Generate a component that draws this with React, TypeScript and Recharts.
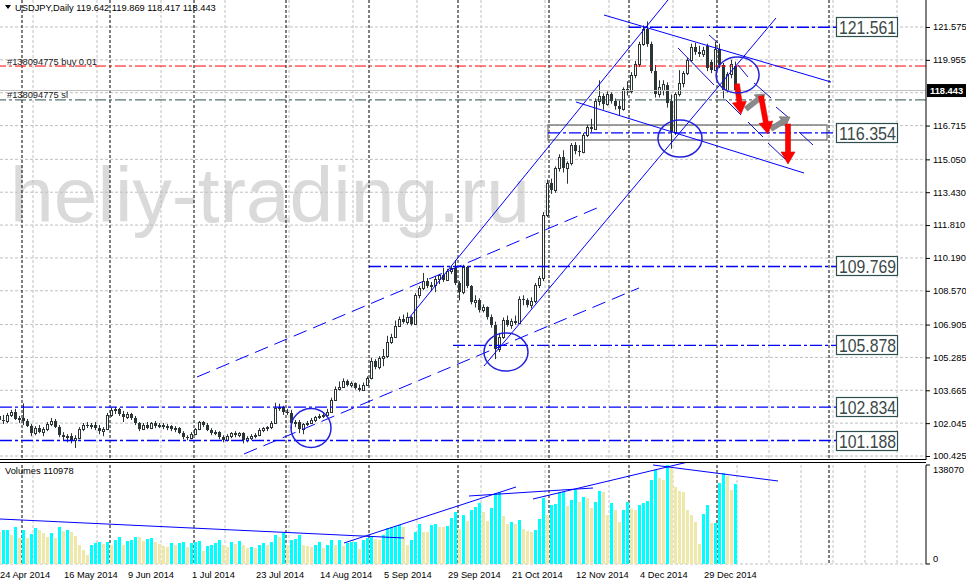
import React from 'react';
import {
  ComposedChart, Bar, XAxis, YAxis, CartesianGrid, ReferenceLine, ReferenceDot, ReferenceArea,
} from 'recharts';

// ---------------- data ----------------
const SYMBOL = 'USDJPY,Daily';
const dateLabels = ['24 Apr 2014', '16 May 2014', '9 Jun 2014', '1 Jul 2014', '23 Jul 2014', '14 Aug 2014', '5 Sep 2014', '29 Sep 2014', '21 Oct 2014', '12 Nov 2014', '4 Dec 2014', '29 Dec 2014'];
const dateLabelBars = [0, 16, 32, 48, 64, 80, 96, 112, 128, 144, 160, 176];

const opens = [
  102.40, 102.20, 102.15, 102.45, 102.60, 102.25, 102.30, 102.15, 101.90, 101.55,
  101.80, 101.60, 101.75, 102.00, 102.15, 101.85, 101.45, 101.35, 101.40, 101.20,
  101.30, 101.75, 101.95, 101.90, 101.95, 101.80, 101.65, 101.75, 102.45, 102.70,
  102.75, 102.50, 102.35, 102.50, 102.30, 102.05, 101.75, 101.95, 101.80, 102.05,
  101.90, 101.95, 101.85, 101.90, 101.75, 101.80, 101.55, 101.35, 101.30, 101.50,
  101.75, 102.10, 101.95, 101.70, 101.55, 101.60, 101.35, 101.20, 101.40, 101.55,
  101.45, 101.55, 101.20, 101.30, 101.40, 101.45, 101.70, 101.80, 101.85, 102.05,
  102.80, 102.85, 102.60, 102.55, 102.05, 102.10, 101.75, 102.00, 102.05, 102.20,
  102.35, 102.40, 102.45, 102.60, 103.20, 103.75, 103.85, 104.10, 103.95, 104.00,
  103.80, 103.70, 103.95, 104.25, 105.10, 104.80, 105.25, 105.35, 106.05, 106.30,
  106.85, 107.20, 107.05, 107.30, 106.95, 108.35, 108.70, 109.05, 108.80, 108.85,
  109.15, 109.35, 109.10, 109.55, 109.70, 108.95, 108.50, 109.75, 108.80, 108.00,
  108.10, 107.60, 107.75, 107.30, 106.90, 105.70, 106.30, 107.15, 106.90, 107.10,
  107.00, 108.15, 108.10, 107.85, 108.05, 108.85, 109.20, 112.30, 113.90, 113.55,
  114.60, 115.15, 114.60, 114.85, 115.75, 115.45, 115.40, 116.25, 116.65, 116.55,
  117.95, 118.15, 117.80, 118.25, 117.95, 117.70, 117.55, 118.50, 118.40, 119.20,
  119.75, 120.75, 121.50, 120.75, 119.40, 118.25, 118.45, 118.70, 117.95, 116.40,
  118.25, 118.80, 119.30, 119.95, 120.60, 120.35, 120.25, 120.65, 119.85, 119.45,
  120.50, 119.70, 118.45, 119.25, 119.642,
];
const highs = [
  102.62, 102.45, 102.55, 102.70, 102.75, 102.40, 103.02, 102.25, 102.00, 101.90,
  101.95, 101.85, 102.10, 102.30, 102.25, 101.95, 101.60, 101.50, 101.55, 101.45,
  101.85, 102.05, 102.10, 102.05, 102.10, 101.95, 101.85, 102.55, 102.80, 102.85,
  102.80, 102.65, 102.60, 102.55, 102.40, 102.10, 102.05, 102.10, 102.10, 102.15,
  102.05, 102.05, 102.00, 101.95, 101.90, 101.85, 101.65, 101.45, 101.60, 101.80,
  102.15, 102.15, 102.05, 101.80, 101.70, 101.65, 101.45, 101.50, 101.60, 101.65,
  101.60, 101.60, 101.40, 101.50, 101.55, 101.80, 101.85, 101.90, 102.15, 103.05,
  103.00, 102.90, 102.75, 102.70, 102.20, 102.20, 102.05, 102.15, 102.30, 102.40,
  102.50, 102.55, 102.75, 103.30, 103.85, 104.10, 104.25, 104.20, 104.10, 104.05,
  103.95, 104.05, 104.35, 105.25, 105.20, 105.35, 105.70, 106.35, 106.45, 107.10,
  107.30, 107.40, 107.50, 107.35, 108.45, 108.80, 109.45, 109.20, 109.00, 109.30,
  109.40, 109.70, 109.65, 109.80, 110.09, 109.05, 109.85, 109.80, 108.85, 108.35,
  108.20, 107.90, 107.80, 107.40, 107.05, 106.50, 107.25, 107.35, 107.20, 107.35,
  108.30, 108.35, 108.20, 108.25, 108.95, 109.30, 112.45, 114.05, 114.10, 114.70,
  115.30, 115.50, 114.95, 115.85, 115.90, 115.75, 116.35, 116.75, 117.05, 118.05,
  118.95, 118.30, 118.40, 118.35, 118.05, 117.95, 118.60, 118.90, 119.35, 119.90,
  120.85, 121.65, 121.85, 120.85, 119.70, 118.95, 118.95, 118.85, 118.25, 118.35,
  119.45, 119.40, 120.05, 120.75, 120.80, 120.65, 120.60, 120.75, 119.95, 120.85,
  120.75, 119.80, 119.35, 119.95, 119.869,
];
const lows = [
  102.05, 102.00, 102.05, 102.35, 102.20, 102.05, 101.95, 101.85, 101.40, 101.45,
  101.55, 101.40, 101.65, 101.90, 101.80, 101.35, 101.20, 101.10, 101.05, 100.82,
  101.25, 101.65, 101.80, 101.75, 101.70, 101.50, 101.40, 101.70, 102.35, 102.50,
  102.40, 102.10, 102.25, 102.20, 101.95, 101.65, 101.70, 101.75, 101.75, 101.80,
  101.80, 101.75, 101.70, 101.65, 101.60, 101.50, 101.25, 101.20, 101.25, 101.45,
  101.70, 101.85, 101.65, 101.45, 101.45, 101.25, 101.10, 101.15, 101.30, 101.35,
  101.35, 101.05, 101.10, 101.20, 101.30, 101.40, 101.60, 101.65, 101.75, 102.00,
  102.65, 102.45, 102.45, 101.75, 101.85, 101.55, 101.50, 101.90, 102.00, 102.10,
  102.25, 102.30, 102.40, 102.55, 103.15, 103.65, 103.80, 103.85, 103.80, 103.70,
  103.60, 103.65, 103.90, 104.20, 104.70, 104.70, 104.85, 105.25, 105.95, 106.25,
  106.80, 106.95, 106.90, 106.85, 106.90, 108.20, 108.60, 108.70, 108.55, 108.50,
  108.90, 109.00, 109.05, 109.40, 108.85, 108.10, 108.40, 108.70, 107.90, 107.75,
  107.50, 107.50, 107.15, 106.75, 105.20, 105.55, 106.20, 106.80, 106.70, 106.90,
  106.95, 107.85, 107.75, 107.70, 107.95, 108.70, 109.05, 112.20, 113.35, 113.40,
  114.45, 114.40, 113.85, 114.75, 115.30, 115.20, 115.35, 116.15, 116.40, 116.50,
  117.70, 117.50, 117.70, 117.80, 117.50, 117.23, 117.45, 118.20, 118.30, 119.05,
  119.60, 120.65, 120.60, 119.30, 118.10, 118.10, 118.20, 117.60, 115.57, 116.25,
  118.15, 118.60, 119.20, 119.85, 120.20, 120.10, 120.10, 119.40, 119.30, 119.40,
  119.55, 118.05, 118.35, 119.05, 118.417,
];
const closes = [
  102.20, 102.15, 102.45, 102.60, 102.25, 102.30, 102.15, 101.90, 101.55, 101.80,
  101.60, 101.75, 102.00, 102.15, 101.85, 101.45, 101.35, 101.40, 101.20, 101.30,
  101.75, 101.95, 101.90, 101.95, 101.80, 101.65, 101.75, 102.45, 102.70, 102.75,
  102.50, 102.35, 102.50, 102.30, 102.05, 101.75, 101.95, 101.80, 102.05, 101.90,
  101.95, 101.85, 101.90, 101.75, 101.80, 101.55, 101.35, 101.30, 101.50, 101.75,
  102.10, 101.95, 101.70, 101.55, 101.60, 101.35, 101.20, 101.40, 101.55, 101.45,
  101.55, 101.20, 101.30, 101.40, 101.45, 101.70, 101.80, 101.85, 102.05, 102.80,
  102.85, 102.60, 102.55, 102.05, 102.10, 101.75, 102.00, 102.05, 102.20, 102.35,
  102.40, 102.45, 102.60, 103.20, 103.75, 103.85, 104.10, 103.95, 104.00, 103.80,
  103.70, 103.95, 104.25, 105.10, 104.80, 105.25, 105.35, 106.05, 106.30, 106.85,
  107.20, 107.05, 107.30, 106.95, 108.35, 108.70, 109.05, 108.80, 108.85, 109.15,
  109.35, 109.10, 109.55, 109.70, 108.95, 108.50, 109.75, 108.80, 108.00, 108.10,
  107.60, 107.75, 107.30, 106.90, 105.70, 106.30, 107.15, 106.90, 107.10, 107.00,
  108.15, 108.10, 107.85, 108.05, 108.85, 109.20, 112.30, 113.90, 113.55, 114.60,
  115.15, 114.60, 114.85, 115.75, 115.45, 115.40, 116.25, 116.65, 116.55, 117.95,
  118.15, 117.80, 118.25, 117.95, 117.70, 117.55, 118.50, 118.40, 119.20, 119.75,
  120.75, 121.50, 120.75, 119.40, 118.25, 118.60, 118.75, 117.85, 116.40, 118.25,
  118.80, 119.30, 119.95, 120.60, 120.35, 120.25, 120.45, 119.55, 119.45, 120.50,
  119.70, 118.45, 119.25, 119.75, 118.443,
];
const volumes = [
  45000, 47000, 48000, 40000, 52000, 36000, 47000, 36000, 42000, 50000,
  48000, 43000, 37000, 43000, 36000, 52000, 46000, 47000, 44000, 39000,
  26000, 20000, 12000, 26000, 29000, 30000, 28000, 31000, 27000, 34000,
  38000, 26000, 32000, 33000, 38000, 37000, 32000, 35000, 36000, 30000,
  28000, 25000, 24000, 29000, 26000, 29000, 30000, 24000, 29000, 30000,
  32000, 18000, 25000, 27000, 29000, 33000, 26000, 24000, 30000, 28000,
  32000, 27000, 22000, 24000, 23000, 27000, 29000, 27000, 31000, 40000,
  37000, 43000, 27000, 34000, 35000, 41000, 26000, 25000, 24000, 26000,
  30000, 23000, 26000, 33000, 26000, 33000, 25000, 29000, 30000, 31000,
  21000, 33000, 36000, 37000, 35000, 33000, 40000, 50000, 52000, 53000,
  54000, 52000, 26000, 33000, 45000, 56000, 45000, 44000, 55000, 56000,
  52000, 51000, 53000, 64000, 73000, 49000, 69000, 60000, 75000, 80000,
  85000, 73000, 60000, 78000, 99000, 100000, 67000, 56000, 59000, 56000,
  61000, 49000, 46000, 45000, 47000, 63000, 92000, 68000, 82000, 83000,
  99000, 100000, 81000, 89000, 103000, 87000, 94000, 92000, 78000, 87000,
  102000, 101000, 68000, 85000, 75000, 59000, 75000, 87000, 77000, 76000,
  82000, 85000, 88000, 117000, 131000, 120000, 117000, 138070, 134000, 108000,
  102000, 101000, 75000, 68000, 59000, 28000, 70000, 82000, 57000, 57500,
  113000, 127000, 123000, 103000, 110978,
];

// axis ticks / grid
const priceGrid = [121.575, 119.955, 118.335, 116.715, 115.05, 113.43, 111.81, 110.19, 108.57, 106.905, 105.285, 103.665, 102.045, 100.425];
const priceHiddenLabel = 118.335;
const gridBars = [8.25, 24.25, 40.25, 56.25, 72.25, 88.25, 104.25, 120.25, 136.25, 152.25, 168.25, 184.25, 192.25, 200.25, 208.25, 216.25, 224.25];
const separatorBars = [5.5, 27.5, 48.5, 71.5, 92.25, 114.5, 137.25, 157.25, 179.25, 207.25];

// annotations (bar index, price)
const orderOpen = 119.65;
const orderSL = 117.98;
const orderTicket = '#138094775';
const levelPrices = [121.561, 116.354, 109.769, 105.878, 102.834, 101.188];
const levelFromBar = [157.25, 137, 92.25, 113.25, 0, 0];
const levelToBar = 209;
const zoneBox = [137, 116.004, 206.75, 116.744];
const trendSolid = [
  [102.25, 107.229, 167, 122.906],
  [121, 104.862, 194, 122.019],
  [151, 122.166, 207.75, 118.863],
  [144, 117.877, 201, 114.377],
];
const trendDashed = [
  [49.25, 104.32, 149.25, 112.652],
  [61, 100.524, 159.75, 108.708],
];
const fanLines = [
  [169.5, 120.54, 178.5, 118.716],
  [177.25, 121.181, 179.5, 120.786],
  [184.5, 119.701, 187, 119.11],
  [181.5, 117.976, 185.25, 117.237],
  [188.5, 118.814, 192.75, 118.075],
  [187, 116.891, 190.75, 116.152],
  [194, 117.631, 197.25, 117.089],
  [192, 115.856, 196.5, 115.018],
  [199.75, 116.398, 203.25, 115.757],
];
const ellipses = [
  [77.75, 101.806, 20, 19.5],
  [126.5, 105.552, 22, 19],
  [170, 116.078, 22, 18.5],
  [184.4, 119.209, 21.5, 18],
];
const redArrows = [
  [184.25, 118.765, 185.25, 117.286],
  [190.25, 118.173, 192, 116.3],
  [197, 116.793, 197, 114.821],
];
const grayArrows = [
  [186.5, 117.532, 191.25, 118.272],
  [192.75, 116.546, 197.5, 117.138],
];
const volumeLines = [
  [0, 62759, 101, 36261],
  [86, 29288, 129, 107388],
  [117.25, 94836, 148.25, 105993],
  [133.25, 90652, 172, 142254],
  [163.25, 138070, 194.5, 115756],
];

// ---------------- derived ----------------
const LAST = closes.length - 1;
const VMAX = Math.max(...volumes);
const candleData = opens.map((o, i) => ({ k: i, range: [lows[i], highs[i]], o, h: highs[i], l: lows[i], c: closes[i] }));
const volumeData = volumes.map((v, i) => ({ k: i, v, up: i > 0 && v > volumes[i - 1] }));

// ---------------- styles ----------------
const FONT = '"Liberation Sans", Arial, sans-serif';
const INK = '#2b3535';
const BLUE = '#0000FF';
const GRID = '#c0c0c0';
const PLOT_W = 926;
const XDOM: [number, number] = [0, 231.5];
const YDOM: [number, number] = [100.228, 122.906];
const SMALL = 9.3;

function Candle(props: any) {
  const { x, y, width, height, payload } = props;
  if (x == null || y == null || !payload) return null;
  const top = Math.min(y, y + height);
  const bottom = Math.max(y, y + height);
  const span = payload.h - payload.l;
  const toY = (p: number) => (span > 0 ? top + ((payload.h - p) / span) * (bottom - top) : top);
  const cx = Math.floor(x + width / 2) + 0.5;
  const yo = Math.round(toY(payload.o));
  const yc = Math.round(toY(payload.c));
  const bTop = Math.min(yo, yc);
  const bBot = Math.max(yo, yc);
  const bull = payload.c > payload.o;
  if (bull) {
    return (
      <g>
        <line x1={cx} x2={cx} y1={top} y2={bTop} stroke={INK} strokeWidth={1} />
        <line x1={cx} x2={cx} y1={bBot} y2={bottom} stroke={INK} strokeWidth={1} />
        <rect x={cx - 1} y={bTop + 0.5} width={2} height={Math.max(1, bBot - bTop)} fill="#fff" stroke={INK} strokeWidth={1} />
      </g>
    );
  }
  return (
    <g>
      <line x1={cx} x2={cx} y1={top} y2={bottom} stroke={INK} strokeWidth={1} />
      <rect x={cx - 1.5} y={bTop} width={3} height={Math.max(1, bBot - bTop)} fill={INK} />
    </g>
  );
}

function VolBar(props: any) {
  const { x, y, width, height, payload } = props;
  if (x == null || y == null || !payload) return null;
  const t = Math.round(Math.min(y, y + height));
  const b = Math.round(Math.max(y, y + height));
  return <rect x={Math.floor(x + width / 2) - 1} y={t} width={3} height={Math.max(0, b - t)} fill={payload.up ? '#00FFFF' : '#EEE8AA'} />;
}

function PriceTick(props: any) {
  const { y, payload } = props;
  const v = payload.value;
  if (v === closes[LAST]) {
    return (
      <g>
        <rect x={927} y={y - 6.5} width={39} height={13} fill="#000" />
        <text x={930} y={y + 3.5} fontSize={SMALL} fontFamily={FONT} fill="#fff" fontWeight="bold">{v.toFixed(3)}</text>
      </g>
    );
  }
  return (
    <g>
      <line x1={926} x2={930} y1={y + 0.5} y2={y + 0.5} stroke="#000" />
      <text x={933} y={y + 3.4} fontSize={SMALL} fontFamily={FONT} fill="#000">{v.toFixed(3)}</text>
    </g>
  );
}

function VolTick(props: any) {
  const { y, payload } = props;
  const v = payload.value;
  const ty = v === 0 ? y - 2.5 : y + 7.5;
  return (
    <g>
      <line x1={926} x2={930} y1={y} y2={y} stroke="#000" />
      <text x={933} y={ty} fontSize={SMALL} fontFamily={FONT} fill="#000">{String(v)}</text>
    </g>
  );
}

function DateTick(props: any) {
  const { x, y, payload } = props;
  const idx = dateLabelBars.indexOf(payload.value);
  return (
    <text x={x} y={y + 13.5} fontSize={SMALL} fontFamily={FONT} fill="#000">{dateLabels[idx]}</text>
  );
}

const arrowShape = (fill: string, shaft: number, head: number, headLen: number) => (p: any) => {
  const { x1, y1, x2, y2 } = p;
  if ([x1, y1, x2, y2].some((q) => q == null || Number.isNaN(q))) return null;
  const dx = x2 - x1;
  const dy = y2 - y1;
  const len = Math.hypot(dx, dy) || 1;
  const ux = dx / len;
  const uy = dy / len;
  const nx = -uy;
  const ny = ux;
  const bx = x2 - ux * headLen;
  const by = y2 - uy * headLen;
  const pts = [
    [x1 + (nx * shaft) / 2, y1 + (ny * shaft) / 2],
    [bx + (nx * shaft) / 2, by + (ny * shaft) / 2],
    [bx + (nx * head) / 2, by + (ny * head) / 2],
    [x2, y2],
    [bx - (nx * head) / 2, by - (ny * head) / 2],
    [bx - (nx * shaft) / 2, by - (ny * shaft) / 2],
    [x1 - (nx * shaft) / 2, y1 - (ny * shaft) / 2],
  ];
  return <polygon points={pts.map((q) => q.join(',')).join(' ')} fill={fill} stroke={fill === '#FF0000' ? '#e00000' : '#6e6e6e'} strokeWidth={0.6} />;
};

const levelBox = (text: string) => (p: any) => {
  const { cx, cy } = p;
  if (cx == null || cy == null) return null;
  return (
    <g>
      <rect x={cx + 0.5} y={Math.round(cy) - 9.5} width={61} height={19} fill="#fff" stroke="#2f4f4f" strokeWidth={1.2} />
      <text x={cx + 3} y={Math.round(cy) + 7} fontSize={18.5} fontFamily={FONT} fill="#3b4848" textLength={57} lengthAdjust="spacingAndGlyphs">{text}</text>
    </g>
  );
};

const ellipseShape = (rx: number, ry: number) => (p: any) => {
  const { cx, cy } = p;
  if (cx == null || cy == null) return null;
  return <ellipse cx={cx} cy={cy} rx={rx} ry={ry} fill="none" stroke="#2222dd" strokeWidth={1.5} />;
};

export default function App() {
  const last = { o: opens[LAST], h: highs[LAST], l: lows[LAST], c: closes[LAST] };
  const header = `${SYMBOL}  ${last.o.toFixed(3)} ${last.h.toFixed(3)} ${last.l.toFixed(3)} ${last.c.toFixed(3)}`;
  return (
    <div style={{ position: 'absolute', left: 0, top: 0, width: 966, height: 584, background: '#fff', overflow: 'hidden' }}>
      {/* watermark */}
      <svg width={966} height={584} style={{ position: 'absolute', left: 0, top: 0 }}>
        <text x={10} y={222} fontSize={78} fontFamily={FONT} fill="#dadada" textLength={520} lengthAdjust="spacingAndGlyphs">heliy-trading.ru</text>
      </svg>

      {/* main price pane */}
      <div style={{ position: 'absolute', left: 0, top: 0 }}>
        <ComposedChart width={966} height={460} data={candleData} margin={{ top: 0, right: 0, bottom: 0, left: 0 }}>
          <CartesianGrid stroke={GRID} strokeDasharray="3 2" verticalValues={gridBars} horizontalValues={priceGrid} />
          <CartesianGrid stroke="#000" strokeDasharray="3 2" horizontal={false} verticalValues={separatorBars} />
          <XAxis type="number" dataKey="k" domain={XDOM} hide allowDataOverflow />
          <YAxis
            orientation="right"
            type="number"
            domain={YDOM}
            allowDataOverflow
            width={40}
            ticks={[...priceGrid.filter((v) => v !== priceHiddenLabel), closes[LAST]]}
            interval={0}
            tickLine={false}
            tickSize={0}
            tickMargin={0}
            axisLine={{ stroke: '#000' }}
            tick={(p: any) => <PriceTick {...p} />}
          />
          {/* order lines */}
          <ReferenceLine y={closes[LAST]} stroke="#c0c0c0" strokeWidth={1} ifOverflow="hidden" />
          <ReferenceLine y={orderOpen} stroke="#FF0000" strokeWidth={1} strokeDasharray="11 3 3 3" ifOverflow="hidden" />
          <ReferenceLine y={orderSL} stroke="#2f4f4f" strokeWidth={1} strokeDasharray="11 3 3 3" ifOverflow="hidden" />
          {/* horizontal levels */}
          {levelPrices.map((lv, i) => (
            <ReferenceLine key={'lv' + i} segment={[{ x: levelFromBar[i], y: lv }, { x: levelToBar, y: lv }]} stroke={BLUE} strokeWidth={1.4} strokeDasharray="12 3 3 3" ifOverflow="hidden" />
          ))}
          <ReferenceArea x1={zoneBox[0]} y1={zoneBox[1]} x2={zoneBox[2]} y2={zoneBox[3]} fill="#fff" fillOpacity={0} stroke="#808080" strokeWidth={1.3} ifOverflow="hidden" />
          {trendDashed.map((t, i) => (
            <ReferenceLine key={'td' + i} segment={[{ x: t[0], y: t[1] }, { x: t[2], y: t[3] }]} stroke={BLUE} strokeWidth={1} strokeDasharray="14 7" ifOverflow="hidden" />
          ))}
          {trendSolid.map((t, i) => (
            <ReferenceLine key={'ts' + i} segment={[{ x: t[0], y: t[1] }, { x: t[2], y: t[3] }]} stroke={BLUE} strokeWidth={1} ifOverflow="hidden" />
          ))}
          {fanLines.map((t, i) => (
            <ReferenceLine key={'fl' + i} segment={[{ x: t[0], y: t[1] }, { x: t[2], y: t[3] }]} stroke="#1010c0" strokeWidth={1} ifOverflow="hidden" />
          ))}
          <Bar dataKey="range" barSize={3} isAnimationActive={false} shape={(p: any) => <Candle {...p} />} />
          {ellipses.map((e, i) => (
            <ReferenceDot key={'el' + i} x={e[0]} y={e[1]} r={10} ifOverflow="visible" shape={ellipseShape(e[2], e[3])} />
          ))}
          {grayArrows.map((a, i) => (
            <ReferenceLine key={'ga' + i} segment={[{ x: a[0], y: a[1] }, { x: a[2], y: a[3] }]} ifOverflow="visible" shape={arrowShape('#8a8a8a', 5, 12, 9)} />
          ))}
          {redArrows.map((a, i) => (
            <ReferenceLine key={'ra' + i} segment={[{ x: a[0], y: a[1] }, { x: a[2], y: a[3] }]} ifOverflow="visible" shape={arrowShape('#FF0000', 5, 14, 12)} />
          ))}
          {levelPrices.map((lv, i) => (
            <ReferenceDot key={'lb' + i} x={levelToBar} y={lv} r={1} ifOverflow="visible" shape={levelBox(lv.toFixed(3))} />
          ))}
        </ComposedChart>
      </div>

      {/* volume pane */}
      <div style={{ position: 'absolute', left: 0, top: 463 }}>
        <ComposedChart width={966} height={121} data={volumeData} margin={{ top: 2, right: 0, bottom: 0, left: 0 }}>
          <CartesianGrid stroke={GRID} strokeDasharray="3 2" verticalValues={gridBars} horizontalValues={[0]} />
          <CartesianGrid stroke="#000" strokeDasharray="3 2" horizontal={false} verticalValues={separatorBars} />
          <XAxis
            type="number"
            dataKey="k"
            domain={XDOM}
            allowDataOverflow
            ticks={dateLabelBars}
            interval={0}
            height={20}
            axisLine={false}
            tickLine={false}
            tickSize={0}
            tickMargin={0}
            tick={(p: any) => <DateTick {...p} />}
          />
          <YAxis
            orientation="right"
            type="number"
            domain={[0, VMAX]}
            allowDataOverflow
            width={40}
            ticks={[0, VMAX]}
            interval={0}
            tickLine={false}
            tickSize={0}
            tickMargin={0}
            axisLine={{ stroke: '#000' }}
            tick={(p: any) => <VolTick {...p} />}
          />
          <Bar dataKey="v" barSize={3} isAnimationActive={false} shape={(p: any) => <VolBar {...p} />} />
          {volumeLines.map((t, i) => (
            <ReferenceLine key={'vl' + i} segment={[{ x: t[0], y: t[1] }, { x: t[2], y: t[3] }]} stroke={BLUE} strokeWidth={1} ifOverflow="visible" />
          ))}
        </ComposedChart>
      </div>

      {/* texts & pane separator */}
      <svg width={966} height={584} style={{ position: 'absolute', left: 0, top: 0, pointerEvents: 'none' }}>
        <line x1={0} x2={PLOT_W} y1={459.5} y2={459.5} stroke="#000" />
        <line x1={0} x2={PLOT_W} y1={462.5} y2={462.5} stroke="#000" />
        <polygon points="5,5 11,5 8,9" fill="#000" />
        <text x={15} y={11} fontSize={SMALL} fontFamily={FONT} fill="#000">{header}</text>
        <text x={7} y={65} fontSize={SMALL} fontFamily={FONT} fill="#222">{`${orderTicket} buy 0.01`}</text>
        <text x={7} y={98} fontSize={SMALL} fontFamily={FONT} fill="#222">{`${orderTicket} sl`}</text>
        <text x={5} y={474} fontSize={SMALL} fontFamily={FONT} fill="#000">{`Volumes ${volumes[LAST]}`}</text>
      </svg>
    </div>
  );
}
